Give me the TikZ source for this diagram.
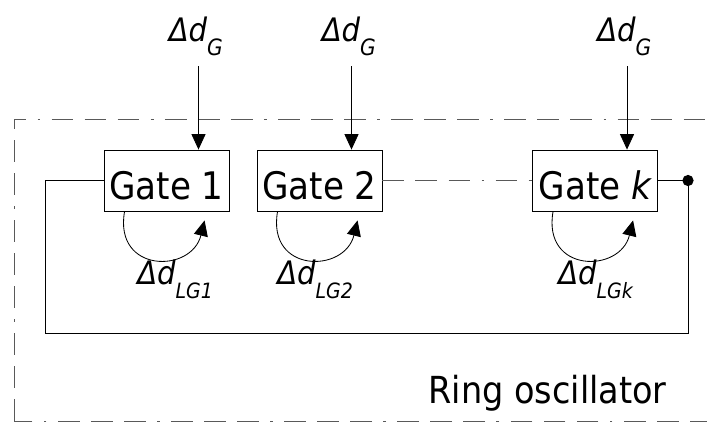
\documentclass[tikz,border=0pt]{standalone}
\usepackage{fontspec}
\setmainfont{DejaVu Sans Condensed}
\usetikzlibrary{arrows.meta}

\begin{document}
\begin{tikzpicture}[x=0.025cm, y=0.025cm,
  gate/.style={draw, line width=0.6pt, minimum width=3.125cm, minimum height=1.525cm,
    inner sep=0pt, text height=27pt, text depth=0pt, font=\fontsize{27}{31}\selectfont},
  wire/.style={line width=0.6pt},
  feed/.style={wire, -{Triangle[length=11pt, width=10pt]}},
  dashdot/.style={line width=0.6pt, black!65,
    dash pattern=on 15.5pt off 8pt on 15.5pt off 8pt on 15.5pt off 8pt on 2pt off 8pt},
  dotk/.style={circle, fill=black, minimum size=8pt, inner sep=0pt},
  lbl/.style={inner sep=0pt, font=\fontsize{23}{27}\selectfont\itshape}]
\useasboundingbox (0,0) rectangle (707,424);
% frame of the ring oscillator
\begin{scope}
  \clip (0,0) rectangle (707,424);
  \draw[dashdot] (14,3) rectangle (740,305);
\end{scope}
\node[anchor=base east, inner sep=0pt, font=\fontsize{26.5}{30}\selectfont] (ring) at (667,21) {Ring oscillator};
% gates with their delay inputs and local loops
\foreach \n/\x/\txt/\lx/\sub in {1/166.5/Gate 1/137/LG1, 2/319.5/Gate 2/277/LG2, k/595/Gate {\itshape k}/558/LGk}{
  \node[gate] (g\n) at (\x,243.5) {\txt};
  \coordinate (in\n) at (\x+32,358);
  \node[lbl, anchor=base west] (dg\n) at (\x+2,383) {Δd\raisebox{-10pt}{\fontsize{16}{18}\selectfont G}};
  \draw[feed] (in\n) -- (in\n |- g\n.north);
  \draw[feed, shift={(g\n.south west)}] (21,0) .. controls (10,-62) and (88,-62) .. (101,-9);
  \node[lbl, anchor=base west] (dl\n) at (\lx,140) {Δd\raisebox{-10pt}{\fontsize{15}{18}\selectfont \sub}};
}
% chain and feedback
\draw[dashdot] (g2.east) -- (gk.west);
\node[dotk] (out) at (688,243.5) {};
\coordinate (fb) at (45,91);
\draw[wire] (gk.east) -- (out.center) |- (fb) |- (g1.west);
\end{tikzpicture}
\end{document}
